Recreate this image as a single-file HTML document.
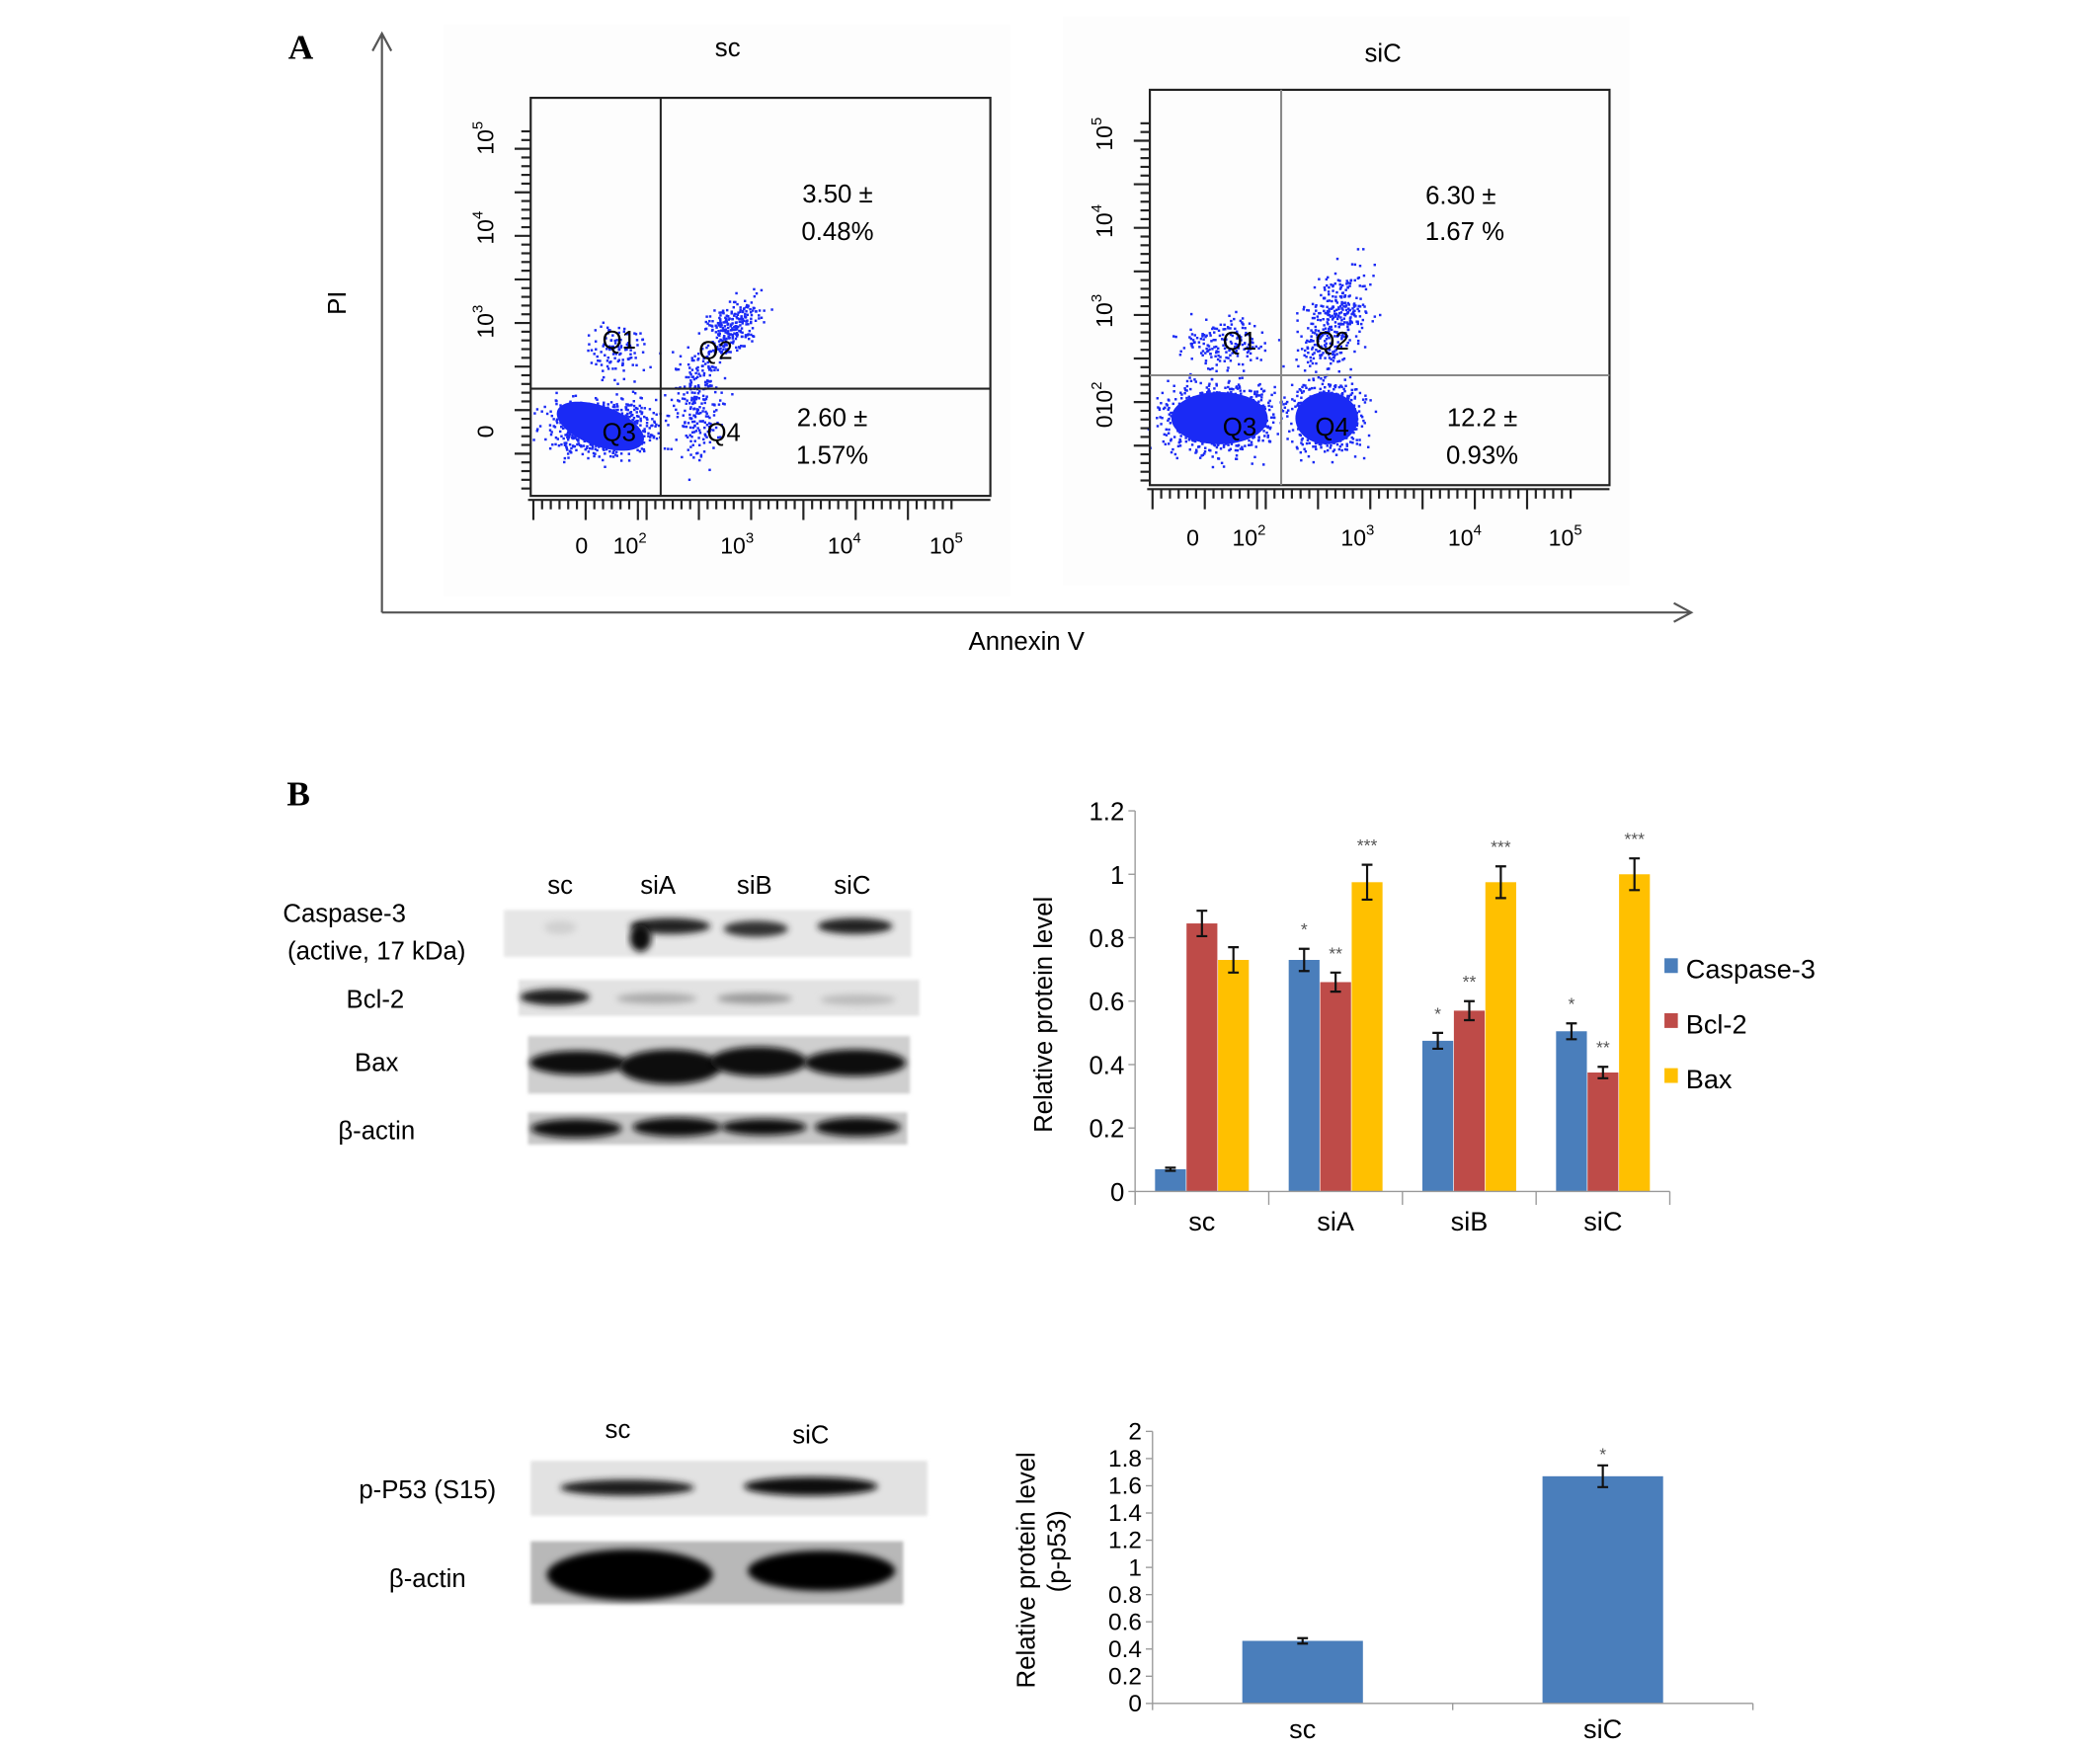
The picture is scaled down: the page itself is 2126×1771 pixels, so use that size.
<!DOCTYPE html>
<html><head><meta charset="utf-8"><style>
html,body{margin:0;padding:0;background:#fff;}
svg{display:block;font-family:"Liberation Sans",Arial,sans-serif;}
</style></head><body>
<svg id="fig" width="2126" height="1771" viewBox="0 0 1567 1305" preserveAspectRatio="none" xmlns="http://www.w3.org/2000/svg">
<defs>
<filter id="blur" x="-20%" y="-50%" width="140%" height="200%"><feGaussianBlur stdDeviation="2.5"/></filter>
<filter id="blur2" x="-20%" y="-50%" width="140%" height="200%"><feGaussianBlur stdDeviation="1.2"/></filter>
</defs>
<rect x="0" y="0" width="1567" height="1305" fill="#fff"/>

<!-- Panel A -->
<g id="panelA">
<text x="215" y="44" font-family="Liberation Serif,serif" font-weight="bold" font-size="26">A</text>
<path d="M285,457 L285,25 M278,38 L285,25 L292,38" fill="none" stroke="#555" stroke-width="1.6"/>
<path d="M285,457 L1262,457 M1249,450 L1262,457 L1249,464" fill="none" stroke="#555" stroke-width="1.6"/>
<text x="0" y="0" transform="translate(258,226) rotate(-90)" text-anchor="middle" font-size="19">PI</text>
<text x="766" y="485" text-anchor="middle" font-size="19">Annexin V</text>
<g id="flowSc"></g>
<g id="flowSiC"></g>
</g>

<!-- Panel B -->
<g id="panelB">
<text x="214" y="601" font-family="Liberation Serif,serif" font-weight="bold" font-size="26">B</text>
<g id="blots1"></g>
<g id="blots2"></g>
<g id="chart1"></g>
<g id="chart2"></g>
</g>
</svg>
<script>
// ===== Chart 1 data =====
const cats1 = ["sc","siA","siB","siC"];
const seriesNames1 = ["Caspase-3","Bcl-2","Bax"];
const casp3 = [0.07,0.73,0.475,0.505];
const bcl2 = [0.845,0.66,0.57,0.375];
const bax = [0.73,0.975,0.975,1.0];
const casp3Err = [0.005,0.035,0.025,0.025];
const bcl2Err = [0.04,0.03,0.03,0.018];
const baxErr = [0.04,0.055,0.05,0.05];
const casp3Stars = ["","*","*","*"];
const bcl2Stars = ["","**","**","**"];
const baxStars = ["","***","***","***"];
const yTicks1 = [0,0.2,0.4,0.6,0.8,1,1.2];
const yTickLabels1 = ["0","0.2","0.4","0.6","0.8","1","1.2"];
// ===== Chart 2 data =====
const cats2 = ["sc","siC"];
const p53 = [0.46,1.67];
const p53Err = [0.02,0.08];
const p53Stars = ["","*"];
const yTicks2 = [0,0.2,0.4,0.6,0.8,1,1.2,1.4,1.6,1.8,2];
const yTickLabels2 = ["0","0.2","0.4","0.6","0.8","1","1.2","1.4","1.6","1.8","2"];

const NS="http://www.w3.org/2000/svg";
function mk(parent,tag,attrs,text){const e=document.createElementNS(NS,tag);for(const k in attrs)e.setAttribute(k,attrs[k]);if(text!==undefined)e.textContent=text;parent.appendChild(e);return e;}

// ===== Chart 1 =====
(function(){
 const g=document.getElementById('chart1');
 const x0=847,x1=1246,yBase=889,yTop=605,vmax=1.2;
 const y=v=>yBase-(v/vmax)*(yBase-yTop);
 const gw=(x1-x0)/cats1.length;
 const cx=i=>x0+gw*(i+0.5);
 const colors=["#4a7ebb","#be4b48","#ffc000"];
 const vals=[casp3,bcl2,bax],errs=[casp3Err,bcl2Err,baxErr],stars=[casp3Stars,bcl2Stars,baxStars];
 const bw=23;
 let l=mk(g,'line',{x1:x0,y1:yTop,x2:x0,y2:yBase+10,stroke:'#999','stroke-width':1});
 
 
 yTicks1.forEach((t,i)=>{
  const tk=mk(g,'line',{x1:x0-5,y1:y(t),x2:x0,y2:y(t),stroke:'#999'});
  
  
  const tl=mk(g,'text',{x:x0-8,y:y(t)+7,'text-anchor':'end','font-size':19},yTickLabels1[i]);
  
  
 });
 const yt=mk(g,'text',{transform:`translate(785,${(yTop+yBase)/2+10}) rotate(-90)`,'text-anchor':'middle','font-size':19},'Relative protein level');
 
 
 cats1.forEach((c,i)=>{
  for(let s=0;s<3;s++){
   const bx=cx(i)+(s-1)*bw-bw/2+(s-1)*0.5;
   const v=vals[s][i];
   const r=mk(g,'rect',{x:bx,y:y(v),width:bw,height:yBase-y(v),fill:colors[s]});
   
   
   const mx=bx+bw/2,e=errs[s][i];
   const eb=mk(g,'path',{d:`M${mx},${y(v+e)}V${y(v-e)}M${mx-4},${y(v+e)}H${mx+4}M${mx-4},${y(v-e)}H${mx+4}`,stroke:'#111','stroke-width':1.6,fill:'none'});
   
   
   if(stars[s][i]){
    const st=mk(g,'text',{x:mx,y:y(v+e)-10,'text-anchor':'middle','font-size':13,fill:'#555'},stars[s][i]);
    
    
   }
  }
  const cl=mk(g,'text',{x:cx(i),y:918,'text-anchor':'middle','font-size':20},c);
  
  
 });
 const xa=mk(g,'line',{x1:x0,y1:yBase,x2:x1,y2:yBase,stroke:'#999'});
 
 
 for(let i=0;i<=cats1.length;i++){
  const tk=mk(g,'line',{x1:x0+gw*i,y1:yBase,x2:x0+gw*i,y2:yBase+10,stroke:'#999'});
  
  
 }
 seriesNames1.forEach((n,s)=>{
  const ly=723+s*41;
  const sw=mk(g,'rect',{x:1242,y:ly-8,width:10,height:11,fill:colors[s]});
  
  
  const lt=mk(g,'text',{x:1258,y:ly+7,'font-size':20},n);
  
  
 });
})();

// ===== Chart 2 =====
(function(){
 const g=document.getElementById('chart2');
 const x0=860,x1=1308,yBase=1271,yTop=1068,vmax=2;
 const y=v=>yBase-(v/vmax)*(yBase-yTop);
 const gw=(x1-x0)/cats2.length;
 const cx=i=>x0+gw*(i+0.5);
 const ax=mk(g,'line',{x1:x0,y1:yTop,x2:x0,y2:yBase,stroke:'#999'});
 
 
 yTicks2.forEach((t,i)=>{
  const tk=mk(g,'line',{x1:x0-5,y1:y(t),x2:x0,y2:y(t),stroke:'#999'});
  
  
  const tl=mk(g,'text',{x:x0-8,y:y(t)+6,'text-anchor':'end','font-size':18},yTickLabels2[i]);
  
  
 });
 const t1=mk(g,'text',{transform:`translate(772,${(yTop+yBase)/2+2}) rotate(-90)`,'text-anchor':'middle','font-size':19},'Relative protein level');
 
 
 const t2=mk(g,'text',{transform:`translate(795,${(yTop+yBase)/2-12}) rotate(-90)`,'text-anchor':'middle','font-size':19},'(p-p53)');
 
 
 const bw=90;
 cats2.forEach((c,i)=>{
  const m=cx(i);
  const v=p53[i],e=p53Err[i];
  const r=mk(g,'rect',{x:m-bw/2,y:y(v),width:bw,height:yBase-y(v),fill:'#4a7ebb'});
  
  
  const eb=mk(g,'path',{d:`M${m},${y(v+e)}V${y(v-e)}M${m-4},${y(v+e)}H${m+4}M${m-4},${y(v-e)}H${m+4}`,stroke:'#111','stroke-width':1.6,fill:'none'});
  
  
  if(p53Stars[i]){
   const st=mk(g,'text',{x:m,y:y(v+e)-4,'text-anchor':'middle','font-size':13,fill:'#555'},p53Stars[i]);
   
   
  }
  const cl=mk(g,'text',{x:m,y:1297,'text-anchor':'middle','font-size':20},c);
  
  
 });
 const xa=mk(g,'line',{x1:x0,y1:yBase,x2:x1,y2:yBase,stroke:'#999'});
 
 
 for(let i=0;i<=cats2.length;i++){
  const tk=mk(g,'line',{x1:x0+gw*i,y1:yBase,x2:x0+gw*i,y2:yBase+5,stroke:'#999'});
  
  
 }
})();

// ===== Flow cytometry plots =====
let seed=12345;
function rnd(){seed=(seed*1103515245+12345)%2147483648;return seed/2147483648;}
function gauss(){return (rnd()+rnd()+rnd()+rnd()-2)/1.15;}
function flow(id,cfg){
 const g=document.getElementById(id);
 const bg=mk(g,'rect',{x:cfg.bx-65,y:cfg.by-55,width:cfg.bw+80,height:cfg.bh+130,fill:'#fdfdfd'});
 
 
 const tt=mk(g,'text',{x:cfg.tx,y:cfg.ty,'text-anchor':'middle','font-size':19},cfg.title);
 
 
 const dg=mk(g,'g',{fill:'#1a2af5'});
 
 
 cfg.clouds.forEach(cl=>{
  for(let k=0;k<cl.n;k++){
   const px=cl.x+gauss()*cl.sx, py=cl.y+gauss()*cl.sy+ (cl.tilt?(px-cl.x)*cl.tilt:0);
   mk(dg,'rect',{x:px,y:py,width:1.8,height:1.8});
  }
  if(cl.core) mk(dg,'ellipse',{cx:cl.x,cy:cl.y,rx:cl.sx*0.9,ry:cl.sy*0.75,transform:`rotate(${cl.rot||0} ${cl.x} ${cl.y})`});
 });
 const box=mk(g,'rect',{x:cfg.bx,y:cfg.by,width:cfg.bw,height:cfg.bh,fill:'none',stroke:'#222','stroke-width':1.6});
 
 
 const vg=mk(g,'line',{x1:cfg.gx,y1:cfg.by,x2:cfg.gx,y2:cfg.by+cfg.bh,stroke:cfg.gcol,'stroke-width':1.5});
 
 
 const hg=mk(g,'line',{x1:cfg.bx,y1:cfg.gy,x2:cfg.bx+cfg.bw,y2:cfg.gy,stroke:cfg.gcol,'stroke-width':1.5});
 
 
 const tg=mk(g,'g',{stroke:'#222','stroke-width':1.6});
 
 
 mk(tg,'line',{x1:cfg.bx-2,y1:cfg.by+cfg.bh+3,x2:cfg.bx+cfg.bw,y2:cfg.by+cfg.bh+3});
 for(let yy=cfg.by+25;yy<cfg.by+cfg.bh;yy+=6.5){mk(tg,'line',{x1:cfg.bx-(((yy-cfg.by)%33<7)?12:7),y1:yy,x2:cfg.bx,y2:yy});}
 for(let xx=cfg.bx+2;xx<cfg.bx+cfg.bw-25;xx+=6.5){mk(tg,'line',{x1:xx,y1:cfg.by+cfg.bh+3,x2:xx,y2:cfg.by+cfg.bh+(((xx-cfg.bx)%40<7)?18:10)});}
 cfg.ylabels.forEach(([t,yy])=>{
  const te=mk(g,'text',{transform:`translate(${cfg.ylx},${yy}) rotate(-90)`,'text-anchor':'middle','font-size':17});
  te.innerHTML=t;
  
  
 });
 cfg.xlabels.forEach(([t,xx])=>{
  const te=mk(g,'text',{x:xx,y:cfg.xly,'text-anchor':'middle','font-size':17});
  te.innerHTML=t;
  
  
 });
 cfg.texts.forEach(([t,xx,yy,n])=>{
  const te=mk(g,'text',{x:xx,y:yy,'text-anchor':'middle','font-size':19},t);
  
  
 });
}
const sup=(b,e)=>`${b}<tspan font-size="11" dy="-8">${e}</tspan>`;
flow('flowSc',{bx:396,by:73,bw:343,bh:297,gx:493,gy:290,gcol:'#222',tx:543,ty:42,title:'sc',
 ylx:368,ylabels:[[sup('10','5'),103],[sup('10','4'),170],[sup('10','3'),240],['0',322]],
 xly:413,xlabels:[['0',434],[sup('10','2'),470],[sup('10','3'),550],[sup('10','4'),630],[sup('10','5'),706]],
 clouds:[{x:448,y:318,sx:38,sy:20,n:800,core:true,rot:20},{x:520,y:300,sx:18,sy:40,n:240},{x:545,y:245,sx:22,sy:20,n:260,tilt:-0.5},{x:460,y:262,sx:24,sy:20,n:110}],
 texts:[['3.50 ±',625,151,'q2-percentage'],['0.48%',625,179,'q2-percentage-sd'],['2.60 ±',621,318,'q4-percentage'],['1.57%',621,346,'q4-percentage-sd'],['Q1',462,260,'q1-label'],['Q2',534,268,'q2-label'],['Q3',462,329,'q3-label'],['Q4',540,329,'q4-label']]});
flow('flowSiC',{bx:858,by:67,bw:343,bh:295,gx:956,gy:280,gcol:'#888',tx:1032,ty:46,title:'siC',
 ylx:830,ylabels:[[sup('10','5'),100],[sup('10','4'),165],[sup('10','3'),232],['0'+sup('10','2'),302]],
 xly:407,xlabels:[['0',890],[sup('10','2'),932],[sup('10','3'),1013],[sup('10','4'),1093],[sup('10','5'),1168]],
 clouds:[{x:910,y:312,sx:40,sy:26,n:900,core:true,rot:0},{x:990,y:312,sx:26,sy:26,n:500,core:true},{x:995,y:240,sx:25,sy:35,n:380,tilt:-0.8},{x:915,y:255,sx:32,sy:20,n:170}],
 texts:[['6.30 ±',1090,152,'q2-percentage'],['1.67 %',1093,179,'q2-percentage-sd'],['12.2 ±',1106,318,'q4-percentage'],['0.93%',1106,346,'q4-percentage-sd'],['Q1',925,261,'q1-label'],['Q2',994,261,'q2-label'],['Q3',925,325,'q3-label'],['Q4',994,325,'q4-label']]});

// ===== Western blots =====
function blot(g,name,x,y,w,h,bg,bands){
 const gg=mk(g,'g',{});
 
 
 mk(gg,'rect',{x:x,y:y,width:w,height:h,fill:bg,filter:'url(#blur2)'});
 bands.forEach(([cx,cy,rx,ry,col])=>mk(gg,'ellipse',{cx:cx,cy:cy,rx:rx,ry:ry,fill:col,filter:'url(#blur)'}));
}
function label(g,t,x,y,name,anchor){
 const te=mk(g,'text',{x:x,y:y,'text-anchor':anchor||'middle','font-size':19},t);
 
 
}
(function(){
 const g=document.getElementById('blots1');
 [['sc',418],['siA',491],['siB',563],['siC',636]].forEach(([t,x])=>label(g,t,x,667,'lane-label-'+t));
 label(g,'Caspase-3',257,688,'caspase-3-label');
 label(g,'(active, 17 kDa)',281,716,'caspase-3-detail-label');
 label(g,'Bcl-2',280,752,'bcl-2-label');
 label(g,'Bax',281,799,'bax-label');
 label(g,'β-actin',281,850,'beta-actin-label');
 blot(g,'caspase-3-blot',376,679,304,35,'#e6e6e6',[[418,692,12,5,'#d0d0d0'],[500,691,30,6,'#222'],[478,700,8,10,'#111'],[564,693,24,6,'#333'],[638,691,28,6,'#222']]);
 blot(g,'bcl-2-blot',387,731,299,27,'#e2e2e2',[[414,744,26,6,'#1c1c1c'],[490,745,30,4,'#aaa'],[563,745,28,4,'#999'],[640,746,28,4,'#bbb']]);
 blot(g,'bax-blot',394,773,285,43,'#cfcfcf',[[431,793,36,9,'#111'],[500,796,38,13,'#0a0a0a'],[566,792,36,11,'#111'],[638,793,38,10,'#111']]);
 blot(g,'beta-actin-blot',394,830,283,24,'#c8c8c8',[[430,842,34,7,'#0a0a0a'],[505,841,33,7,'#111'],[570,841,32,6,'#111'],[640,841,32,7,'#111']]);
})();
(function(){
 const g=document.getElementById('blots2');
 label(g,'sc',461,1073,'lane-label-sc');
 label(g,'siC',605,1077,'lane-label-sic');
 label(g,'p-P53 (S15)',319,1118,'p-p53-label');
 label(g,'β-actin',319,1184,'beta-actin-label');
 blot(g,'p-p53-blot',396,1090,296,41,'#e2e2e2',[[468,1110,50,6,'#1a1a1a'],[605,1109,50,7,'#111']]);
 blot(g,'beta-actin-blot-2',396,1150,278,47,'#b8b8b8',[[470,1175,62,19,'#050505'],[613,1172,55,15,'#050505']]);
})();
</script>
</body></html>
